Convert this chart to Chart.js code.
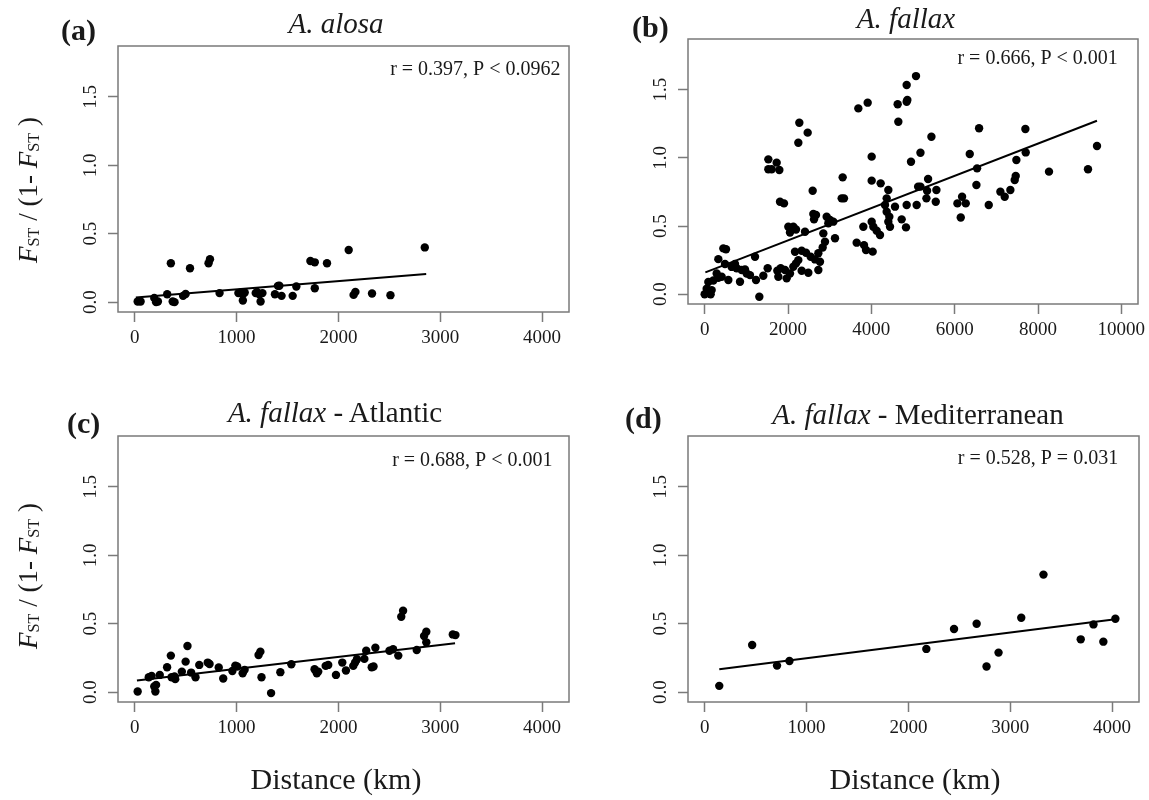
<!DOCTYPE html>
<html>
<head>
<meta charset="utf-8">
<script src="https://cdn.jsdelivr.net/npm/chart.js@4.4.0/dist/chart.umd.min.js"></script>
<style>
body { margin: 0; background: #fff; }
#page { position: relative; width: 1149px; height: 800px; overflow: hidden; font-family: "Liberation Serif", "Times New Roman", serif; color: #1a1a1a; }
#page canvas { position: absolute; left: 0; top: 0; }
.title { position: absolute; font-size: 29px; line-height: 1; white-space: nowrap; transform: translateX(-50%); }
.tag { position: absolute; font-size: 30px; font-weight: bold; line-height: 1; }
.ytitle { position: absolute; font-size: 27px; line-height: 1; white-space: nowrap; transform: translate(-50%, -50%) rotate(-90deg); }
.ytitle sub { font-size: 0.6em; vertical-align: -0.12em; }
.xtitle { position: absolute; font-size: 30px; line-height: 1; white-space: nowrap; transform: translateX(-50%); }
</style>
</head>
<body>
<div id="page">
  <canvas id="chartA" width="1200" height="800"></canvas>
  <canvas id="chartB" width="1200" height="800"></canvas>
  <canvas id="chartC" width="1200" height="800"></canvas>
  <canvas id="chartD" width="1200" height="800"></canvas>

  <div class="tag" style="left:61px;top:15px">(a)</div>
  <div class="tag" style="left:632px;top:12px">(b)</div>
  <div class="tag" style="left:67px;top:408px">(c)</div>
  <div class="tag" style="left:625px;top:403px">(d)</div>

  <div class="title" style="left:336px;top:9px"><i>A. alosa</i></div>
  <div class="title" style="left:906px;top:4px"><i>A. fallax</i></div>
  <div class="title" style="left:335px;top:398px"><i>A. fallax</i> - Atlantic</div>
  <div class="title" style="left:918px;top:400px"><i>A. fallax</i> - Mediterranean</div>

  <div class="ytitle" style="left:29px;top:190px"><i>F</i><sub>ST</sub> / (1- <i>F</i><sub>ST</sub> )</div>
  <div class="ytitle" style="left:29px;top:576px"><i>F</i><sub>ST</sub> / (1- <i>F</i><sub>ST</sub> )</div>

  <div class="xtitle" style="left:336px;top:764px">Distance (km)</div>
  <div class="xtitle" style="left:915px;top:764px">Distance (km)</div>
</div>

<script>
// --- data: distance (km) vs FST/(1-FST) ---
var alosaDist = [29, 58, 192, 210, 228, 319, 355, 391, 373, 475, 500, 543, 725, 739, 833, 1018, 1040, 1062, 1062, 1080,
  1188, 1200, 1225, 1236, 1254, 1377, 1406, 1420, 1442, 1551, 1587, 1725, 1768, 1768, 1888, 2101, 2149, 2167, 2330, 2511, 2848];
var alosaFst = [0.005, 0.005, 0.03, 0.0, 0.005, 0.058, 0.284, 0.0, 0.005, 0.046, 0.06, 0.248, 0.284, 0.313, 0.066, 0.066, 0.07, 0.058, 0.012, 0.07,
  0.066, 0.075, 0.058, 0.005, 0.066, 0.058, 0.119, 0.12, 0.046, 0.046, 0.114, 0.301, 0.291, 0.102, 0.284, 0.381, 0.053, 0.075, 0.063, 0.051, 0.4];

var fallaxDist = [0, 144, 48, 168, 88, 208, 328, 328, 448, 512, 288, 408, 488, 568, 648, 728, 768, 848, 888, 968,
  1008, 1088, 1208, 1232, 1312, 1408, 1512, 1528, 1528, 1608, 1728, 1792, 1808, 1904, 1744, 1768, 1824, 1928, 2008, 2048,
  2128, 2192, 1968, 2048, 2128, 2192, 2248, 2168, 2272, 2248, 2472, 2328, 2328, 2432, 2488, 2408, 2592, 2608, 2624, 2544,
  2648, 2728, 2728, 2768, 2832, 2888, 2848, 2928, 3008, 2968, 3088, 3128, 3288, 3344, 3312, 2672, 3688, 3912, 3648, 3808,
  3824, 3872, 4032, 4008, 4008, 4008, 4048, 4128, 4208, 4224, 4408, 4368, 4368, 4432, 4408, 4448, 4328, 4568, 4632, 4648,
  4848, 4864, 4848, 4728, 4832, 4848, 4952, 5072, 5088, 5442, 6586, 7697, 9416, 5179, 6362, 7705, 7481, 6538, 8264, 9200,
  7465, 7441, 5362, 5123, 5179, 6522, 5338, 5322, 5562, 5546, 6066, 6178, 6266, 6146, 6818, 7097, 7201, 7337];
var fallaxFst = [0.0, 0.0, 0.04, 0.03, 0.09, 0.10, 0.12, 0.257, 0.336, 0.33, 0.152, 0.128, 0.221, 0.104, 0.2, 0.221, 0.19, 0.091, 0.177, 0.182,
  0.152, 0.14, 0.275, 0.104, -0.019, 0.135, 0.19, 0.989, 0.916, 0.916, 0.965, 0.911, 0.678, 0.666, 0.172, 0.128, 0.19, 0.177, 0.495, 0.453,
  0.495, 0.475, 0.116, 0.152, 0.201, 0.226, 0.25, 0.311, 1.258, 1.111, 1.185, 0.319, 0.172, 0.304, 0.157, 0.458, 0.759, 0.588, 0.549, 0.275,
  0.255, 0.3, 0.177, 0.238, 0.343, 0.385, 0.446, 0.568, 0.544, 0.52, 0.532, 0.41, 0.703, 0.703, 0.857, 0.581, 1.363, 1.405, 0.378, 0.495,
  0.36, 0.324, 0.312, 1.009, 0.833, 0.532, 0.495, 0.466, 0.434, 0.813, 0.764, 0.703, 0.605, 0.568, 0.532, 0.495, 0.654, 0.642, 1.393, 1.265,
  1.535, 1.424, 1.412, 0.549, 0.49, 0.654, 0.972, 1.6, 0.654, 1.155, 1.217, 1.212, 1.087, 1.038, 1.028, 1.04, 0.984, 0.923, 0.899, 0.916,
  0.867, 0.837, 0.845, 0.789, 0.789, 0.801, 0.759, 0.703, 0.764, 0.678, 0.666, 0.715, 0.666, 0.563, 0.654, 0.752, 0.715, 0.764];

var atlDist = [29, 138, 166, 192, 210, 203, 246, 318, 355, 362, 391, 398, 463, 500, 518, 554, 597, 634, 717, 735,
  825, 869, 959, 988, 1006, 1060, 1079, 1216, 1234, 1245, 1339, 1430, 1538, 1766, 1788, 1802, 1875, 1900, 1976, 2038,
  2074, 2146, 2164, 2182, 2255, 2273, 2327, 2345, 2363, 2501, 2537, 2588, 2617, 2635, 2769, 2841, 2863, 2863, 3123, 3149];
var atlFst = [0.005, 0.109, 0.119, 0.041, 0.053, 0.005, 0.126, 0.182, 0.267, 0.109, 0.114, 0.095, 0.15, 0.223, 0.337, 0.143, 0.109, 0.199, 0.216, 0.206,
  0.18, 0.1, 0.155, 0.194, 0.187, 0.138, 0.163, 0.272, 0.296, 0.109, -0.007, 0.146, 0.204, 0.167, 0.138, 0.15, 0.192, 0.199, 0.126, 0.216,
  0.158, 0.192, 0.216, 0.24, 0.243, 0.303, 0.182, 0.187, 0.325, 0.303, 0.313, 0.267, 0.551, 0.595, 0.308, 0.41, 0.442, 0.364, 0.422, 0.417];

var medDist = [143, 466, 710, 832, 2176, 2448, 2670, 2767, 2885, 3108, 3326, 3692, 3817, 3914, 4032];
var medFst = [0.046, 0.345, 0.194, 0.228, 0.316, 0.461, 0.5, 0.187, 0.289, 0.544, 0.859, 0.386, 0.495, 0.369, 0.536];

// fitted regression lines (end points)
var alosaFitX = [11, 2862], alosaFitY = [0.034, 0.206];
var fallaxFitX = [17, 9415], fallaxFitY = [0.16, 1.272];
var atlFitX = [22, 3145], atlFitY = [0.085, 0.357];
var medFitX = [143, 4032], medFitY = [0.167, 0.532];

// axis ticks
var distTicks = [0, 1000, 2000, 3000, 4000];
var fallaxTicks = [0, 2000, 4000, 6000, 8000, 10000];
var fstTicks = [0, 0.5, 1, 1.5];
var fstLabels = ['0.0', '0.5', '1.0', '1.5'];

Chart.defaults.font.family = '"Liberation Serif", "Times New Roman", serif';

var AXIS_GREY = '#7a7a7a';
var CANVAS_W = 1200, CANVAS_H = 800;

// box outline, rotated y tick labels and the r / P note
var framePlugin = {
  id: 'frame',
  afterDraw: function(chart, args, opts) {
    var ctx = chart.ctx, a = chart.chartArea;
    var xs = chart.scales.x, ys = chart.scales.y;
    ctx.save();
    ctx.strokeStyle = AXIS_GREY;
    ctx.lineWidth = 1.5;
    ctx.strokeRect(a.left, a.top, a.right - a.left, a.bottom - a.top);

    ctx.fillStyle = '#1a1a1a';
    ctx.font = '19px "Liberation Serif"';
    ctx.textAlign = 'center';
    ctx.textBaseline = 'middle';
    fstTicks.forEach(function(v, i) {
      ctx.save();
      ctx.translate(a.left - 27, ys.getPixelForValue(v));
      ctx.rotate(-Math.PI / 2);
      ctx.fillText(fstLabels[i], 0, 0);
      ctx.restore();
    });

    ctx.font = '20px "Liberation Serif"';
    ctx.textBaseline = 'alphabetic';
    ctx.fillText(opts.text, xs.getPixelForValue(opts.at[0]), ys.getPixelForValue(opts.at[1]));
    ctx.restore();
  }
};

function toPoints(xs, ys) {
  return xs.map(function(x, i) { return { x: x, y: ys[i] }; });
}

function makePanel(id, box, dist, fst, fitX, fitY, xTicks, xLim, note) {
  var ctx = document.getElementById(id).getContext('2d');
  return new Chart(ctx, {
    type: 'scatter',
    data: {
      datasets: [{
        data: toPoints(dist, fst),
        backgroundColor: '#000',
        borderColor: '#000',
        borderWidth: 0,
        pointRadius: 4.2,
        pointHoverRadius: 4.2
      }, {
        data: toPoints(fitX, fitY),
        showLine: true,
        borderColor: '#000',
        borderWidth: 2,
        pointRadius: 0,
        fill: false
      }]
    },
    options: {
      responsive: false,
      animation: false,
      events: [],
      layout: {
        padding: { left: box.l - 10, top: box.t, right: CANVAS_W - box.r, bottom: CANVAS_H - box.b - 40 }
      },
      plugins: {
        legend: { display: false },
        tooltip: { enabled: false },
        frame: note
      },
      scales: {
        x: {
          type: 'linear',
          min: xLim[0],
          max: xLim[1],
          afterBuildTicks: function(s) { s.ticks = xTicks.map(function(v) { return { value: v }; }); },
          afterFit: function(s) { s.height = 40; },
          border: { display: false },
          grid: { drawOnChartArea: false, tickLength: 10, tickColor: AXIS_GREY, tickWidth: 1.5, color: AXIS_GREY },
          ticks: {
            color: '#1a1a1a',
            font: { size: 19 },
            padding: 5,
            maxRotation: 0,
            callback: function(v) { return String(v); }
          }
        },
        y: {
          type: 'linear',
          min: -0.072,
          max: 1.872,
          afterBuildTicks: function(s) { s.ticks = fstTicks.map(function(v) { return { value: v }; }); },
          afterFit: function(s) { s.width = 10; },
          border: { display: false },
          grid: { drawOnChartArea: false, tickLength: 10, tickColor: AXIS_GREY, tickWidth: 1.5, color: AXIS_GREY },
          ticks: { display: false }
        }
      }
    },
    plugins: [framePlugin]
  });
}

makePanel('chartA', { l: 118, t: 46, r: 569, b: 312 }, alosaDist, alosaFst, alosaFitX, alosaFitY,
  distTicks, [-164, 4264], { text: 'r = 0.397, P < 0.0962', at: [3344, 1.66] });
makePanel('chartB', { l: 688, t: 39, r: 1138, b: 304 }, fallaxDist, fallaxFst, fallaxFitX, fallaxFitY,
  fallaxTicks, [-400, 10400], { text: 'r = 0.666, P < 0.001', at: [7991, 1.69] });
makePanel('chartC', { l: 118, t: 436, r: 569, b: 702 }, atlDist, atlFst, atlFitX, atlFitY,
  distTicks, [-164, 4264], { text: 'r = 0.688, P < 0.001', at: [3315, 1.655] });
makePanel('chartD', { l: 688, t: 436, r: 1139, b: 702 }, medDist, medFst, medFitX, medFitY,
  distTicks, [-164, 4264], { text: 'r = 0.528, P = 0.031', at: [3272, 1.667] });
</script>
</body>
</html>
